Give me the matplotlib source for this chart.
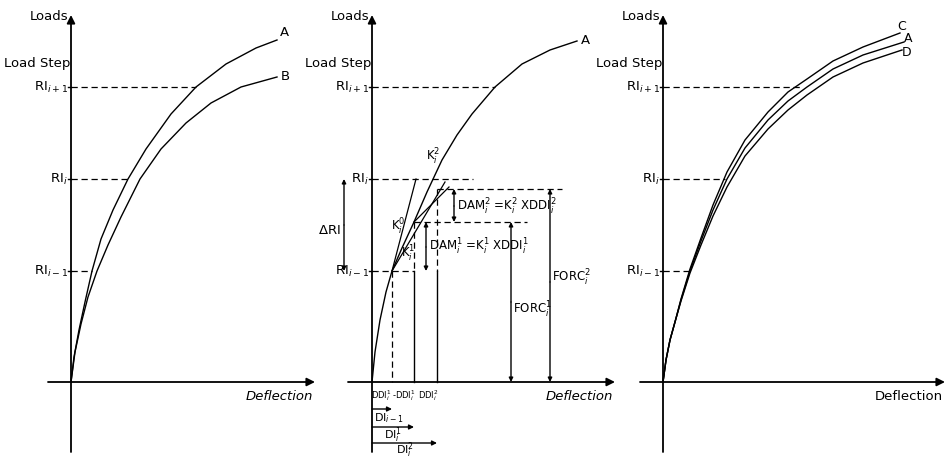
import matplotlib
matplotlib.use("Agg")
import matplotlib.pyplot as plt
from matplotlib import font_manager

names = {f.name for f in font_manager.fontManager.ttflist}
base = 'Liberation Sans Narrow' if 'Liberation Sans Narrow' in names else 'DejaVu Sans'
plt.rcParams['font.family'] = [base, 'DejaVu Sans']
plt.rcParams['mathtext.fontset'] = 'custom'
plt.rcParams['mathtext.rm'] = base
plt.rcParams['mathtext.it'] = base + ':italic'

# ---------------- data (deflection, load) in drawing units, origin at 0 ----------------
# Panel 1
p1_A_x = [0, 3, 8, 14, 21, 30, 42, 57, 75, 100, 125, 155, 185, 206]
p1_A_y = [0, 25, 52, 80, 111, 143, 172, 203, 233, 268, 295, 318, 334, 342]
p1_B_x = [0, 4, 10, 17, 26, 37, 50, 69, 90, 115, 140, 170, 206]
p1_B_y = [0, 30, 58, 85, 111, 137, 165, 203, 233, 259, 279, 295, 305]
p1_cross = [21, 57, 125]          # where the load-step lines meet curve A

# Panel 2
p2_A_x = [0, 3, 8, 14, 20, 30, 42, 55, 70, 85, 100, 123, 150, 178, 205]
p2_A_y = [0, 30, 62, 90, 111, 134, 160, 190, 222, 247, 268, 295, 318, 332, 341]
p2_cross = [42, 101, 123]

# Panel 3
p3_A_x = [0, 3, 7, 12, 18, 27, 38, 50, 64, 82, 105, 125, 144, 170, 200, 241]
p3_A_y = [0, 22, 42, 60, 82, 111, 141, 172, 203, 234, 262, 281, 295, 313, 327, 340]
p3_C_x = [0, 3, 7, 12, 18, 27, 38, 50, 64, 82, 105, 125, 144, 170, 200, 237]
p3_C_y = [0, 22, 42, 60, 83, 113, 144, 177, 210, 242, 270, 290, 303, 321, 335, 349]
p3_D_x = [0, 3, 7, 12, 18, 27, 38, 50, 64, 82, 105, 125, 144, 170, 200, 239]
p3_D_y = [0, 22, 42, 60, 81, 109, 137, 166, 195, 226, 253, 272, 287, 305, 319, 332]
p3_cross = [27, 62, 137]

# load steps
levels = [111, 203, 295]
level_labels = ['RI$_{i-1}$', 'RI$_i$', 'RI$_{i+1}$']

# Newton-Raphson iteration quantities (panel 2)
DI_prev = 20
DI_1 = 42
DI_2 = 65
FORC_1 = 160
FORC_2 = 193

K = dict(lw=1.0, color='black')
FS = 9.5

fig = plt.figure(figsize=(9.5, 4.58), dpi=100)

def make_ax(left_px, width_px, ox):
    ax = fig.add_axes([left_px / 950, 0, width_px / 950, 1])
    ax.set_xlim(-ox, width_px - ox)
    ax.set_ylim(-76, 382)
    ax.axis('off')
    return ax

def arrow(ax, x0, y0, x1, y1, style='-|>', lw=1.0, ms=8):
    ax.annotate('', xy=(x1, y1), xytext=(x0, y0),
                arrowprops=dict(arrowstyle=style, lw=lw, color='black',
                                shrinkA=0, shrinkB=0, mutation_scale=ms))

def frame(ax, xstart, xend, ystart=-70, yend=367, italic=True):
    arrow(ax, 0, ystart, 0, yend, lw=1.3, ms=12)
    arrow(ax, xstart, 0, xend, 0, lw=1.3, ms=12)
    ax.text(-3, yend - 2, 'Loads', ha='right', va='center', fontsize=FS)
    ax.text(-1, 319, 'Load Step', ha='right', va='center', fontsize=FS)
    ax.text(xend - 2, -15, 'Deflection', ha='right', va='center', fontsize=FS,
            style='italic' if italic else 'normal')

def steps(ax, cross):
    for lv, lab, cx in zip(levels, level_labels, cross):
        ax.plot([0, cx], [lv, lv], ls=(0, (5, 3)), lw=0.9, color='black')
        ax.plot([-3, 0], [lv, lv], lw=1.0, color='black')
        ax.text(-3, lv, lab, ha='right', va='center', fontsize=FS)

# ---------------- Panel 1 ----------------
ax1 = make_ax(0, 317, 71)
frame(ax1, -23, 244)
steps(ax1, p1_cross)
ax1.plot(p1_A_x, p1_A_y, **K)
ax1.plot(p1_B_x, p1_B_y, **K)
ax1.text(p1_A_x[-1] + 3, p1_A_y[-1] + 7, 'A', fontsize=FS, va='center')
ax1.text(p1_B_x[-1] + 4, p1_B_y[-1], 'B', fontsize=FS, va='center')

# ---------------- Panel 2 ----------------
ax2 = make_ax(317, 323, 55)
frame(ax2, -24, 243)
steps(ax2, p2_cross)
ax2.plot(p2_A_x, p2_A_y, **K)
ax2.text(p2_A_x[-1] + 4, p2_A_y[-1] + 1, 'A', fontsize=FS, va='center')

dash = dict(ls=(0, (5, 3)), lw=0.9, color='black')
# extra horizontal levels
ax2.plot([DI_1, 155], [FORC_1, FORC_1], **dash)
ax2.plot([DI_2, 190], [FORC_2, FORC_2], **dash)
# verticals
ax2.plot([DI_prev, DI_prev], [levels[0], 0], **dash)
ax2.plot([DI_1, DI_1], [FORC_1, levels[0]], **dash)
ax2.plot([DI_1, DI_1], [levels[0], 0], lw=1.0, color='black')
ax2.plot([DI_2, DI_2], [FORC_2, levels[0]], **dash)
ax2.plot([DI_2, DI_2], [levels[0], 0], lw=1.0, color='black')
# stiffness lines
ax2.plot([DI_prev, 44], [levels[0], levels[1]], lw=0.9, color='black')
ax2.plot([DI_prev, 73], [levels[0], 200], lw=0.9, color='black')
ax2.plot([DI_1, 77], [FORC_1, 195], lw=0.9, color='black')
ax2.text(26, 155, 'K$_i^0$', fontsize=8.5, ha='center', va='center')
ax2.text(36, 128, 'K$_i^1$', fontsize=8.5, ha='center', va='center')
ax2.text(61, 225, 'K$_i^2$', fontsize=8.5, ha='center', va='center')

# dimension arrows
arrow(ax2, -28, 157, -28, levels[1], ms=6)
arrow(ax2, -28, 157, -28, levels[0], ms=6)
ax2.text(-31, 152, '$\\Delta$RI', fontsize=FS, ha='right', va='center')
arrow(ax2, 54, 135, 54, FORC_1, ms=6)
arrow(ax2, 54, 135, 54, levels[0], ms=6)
ax2.text(57, 135, 'DAM$_i^1$ =K$_i^1$ XDDI$_i^1$', fontsize=8.5, va='center')
arrow(ax2, 82, 176, 82, FORC_2, ms=6)
arrow(ax2, 82, 176, 82, FORC_1, ms=6)
ax2.text(85, 175, 'DAM$_i^2$ =K$_i^2$ XDDI$_i^2$', fontsize=8.5, va='center')
arrow(ax2, 139, 80, 139, FORC_1, ms=6)
arrow(ax2, 139, 80, 139, 0, ms=6)
ax2.text(141, 72, 'FORC$_i^1$', fontsize=8.5, va='center')
arrow(ax2, 178, 100, 178, FORC_2, ms=6)
arrow(ax2, 178, 100, 178, 0, ms=6)
ax2.text(180, 104, 'FORC$_i^2$', fontsize=8.5, va='center')

# deflection increments
ax2.text(DI_prev / 2 - 1, -14, 'DDI$_i^1$', fontsize=6, ha='center', va='center')
ax2.text((DI_prev + DI_1) / 2 + 1, -14, '-DDI$_i^1$', fontsize=6, ha='center', va='center')
ax2.text((DI_1 + DI_2) / 2 + 3, -14, 'DDI$_i^2$', fontsize=6, ha='center', va='center')
arrow(ax2, 0, -27, DI_prev, -27, ms=7)
ax2.text(2, -36, 'DI$_{i-1}$', fontsize=8, va='center')
arrow(ax2, 0, -45, DI_1, -45, ms=7)
ax2.text(12, -53, 'DI$_i^1$', fontsize=8, va='center')
arrow(ax2, 0, -61, DI_2, -61, ms=7)
ax2.text(24, -68, 'DI$_i^2$', fontsize=8, va='center')

# ---------------- Panel 3 ----------------
ax3 = make_ax(640, 310, 23)
frame(ax3, -23, 282, italic=False)
steps(ax3, p3_cross)
ax3.plot(p3_C_x, p3_C_y, **K)
ax3.plot(p3_A_x, p3_A_y, **K)
ax3.plot(p3_D_x, p3_D_y, **K)
ax3.text(p3_C_x[-1] - 3, 356, 'C', fontsize=9, va='center')
ax3.text(p3_A_x[-1] + 0, 344, 'A', fontsize=9, va='center')
ax3.text(p3_D_x[-1] + 0, 329, 'D', fontsize=9, va='center')

fig.savefig('out.png', dpi=100, facecolor='white')
